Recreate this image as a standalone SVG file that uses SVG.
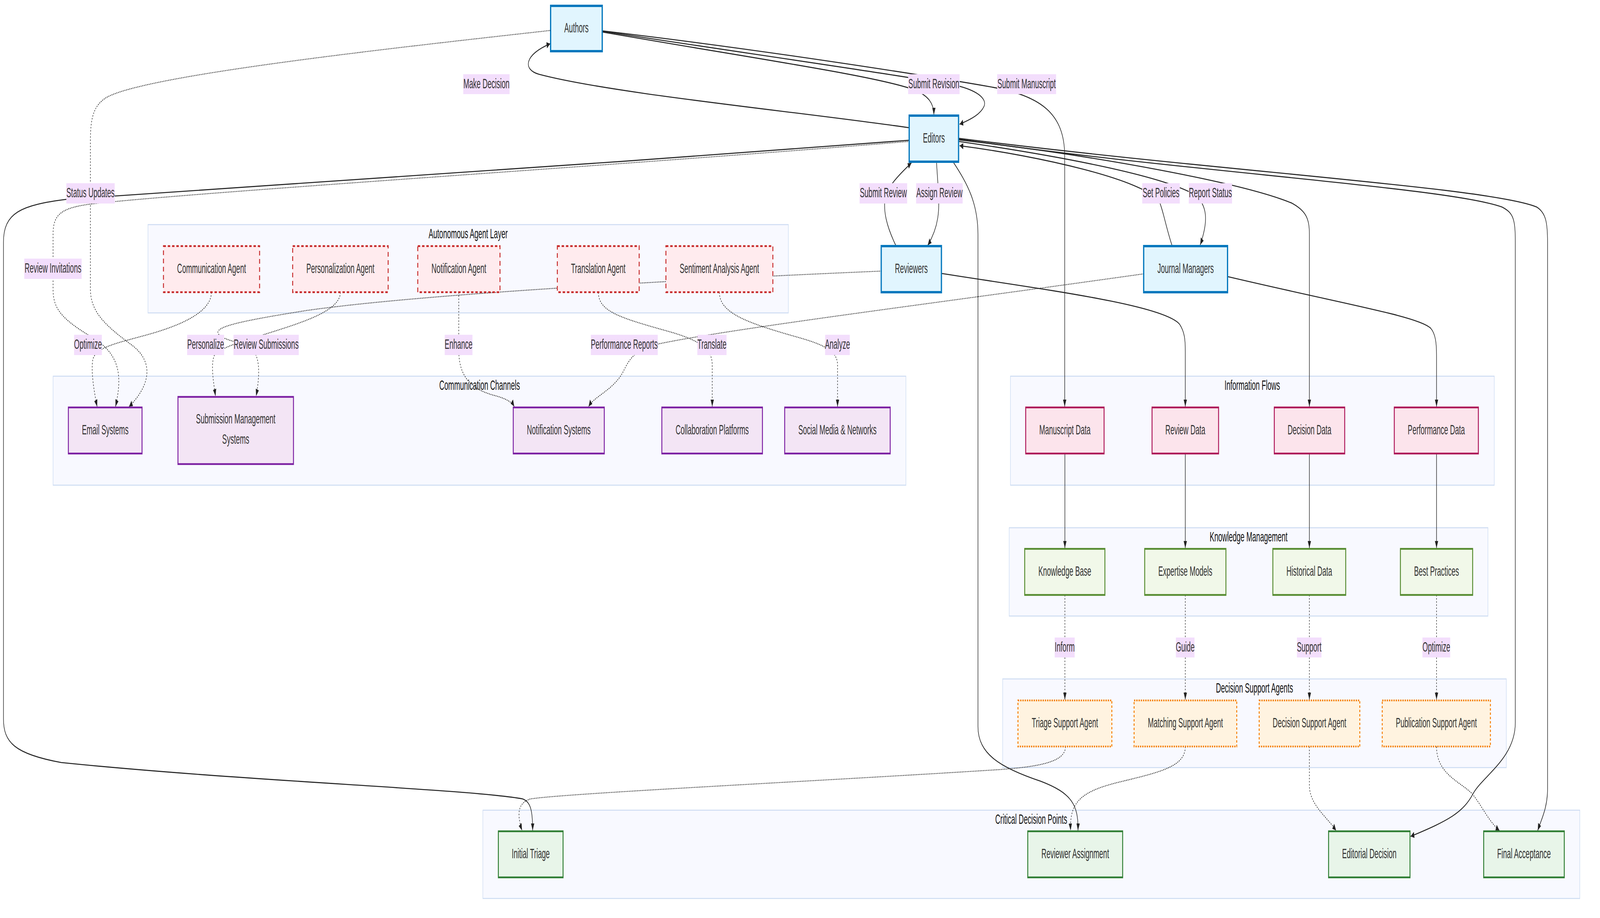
<svg xmlns="http://www.w3.org/2000/svg" width="7840" height="2350" viewBox="0 0 7840 2350" preserveAspectRatio="none" style="width:100vw;height:100vh;display:block">
<style>
text{font-family:"Liberation Sans",Arial,Helvetica,sans-serif;font-size:34.5px;text-anchor:middle}
.cl{fill:#f8f9ff;stroke:#cddcf2;stroke-width:2.5}
.ct{fill:#111}
.nt{fill:#333}
.stake{fill:#e1f5fe;stroke:#0277bd;stroke-width:6}
.agent{fill:#ffebee;stroke:#c62828;stroke-width:4.5;stroke-dasharray:12 9}
.chan{fill:#f3e5f5;stroke:#7b1fa2;stroke-width:4.5}
.data{fill:#fce4ec;stroke:#ad1457;stroke-width:4.5}
.know{fill:#f1f8e9;stroke:#558b2f;stroke-width:4.5}
.dsa{fill:#fff3e0;stroke:#f57c00;stroke-width:4.5;stroke-dasharray:6 5}
.crit{fill:#e8f5e9;stroke:#2e7d32;stroke-width:4.5}
.e{fill:none;stroke:#222;stroke-width:2.6;marker-end:url(#arr)}
.d{stroke-dasharray:4 4;stroke-width:2.3}
.lb{fill:#f3defc}
.lt{fill:#333}
</style>
<defs>
<marker id="arr" markerUnits="userSpaceOnUse" markerWidth="20" markerHeight="16" refX="18" refY="8" orient="auto">
<path d="M0,0 L18,8 L0,16 z" fill="#222"/>
</marker>
</defs>
<rect width="7840" height="2350" fill="#fff"/>

<g id="clusters">
<g id="cluster-agents"><rect class="cl" x="725" y="575" width="3138" height="226"/><text class="ct" x="2294" y="610">Autonomous Agent Layer</text></g>
<g id="cluster-channels"><rect class="cl" x="260" y="963" width="4179" height="279"/><text class="ct" x="2350" y="998">Communication Channels</text></g>
<g id="cluster-info"><rect class="cl" x="4951" y="963" width="2371" height="279"/><text class="ct" x="6136" y="998">Information Flows</text></g>
<g id="cluster-knowledge"><rect class="cl" x="4945" y="1351" width="2346" height="226"/><text class="ct" x="6118" y="1386">Knowledge Management</text></g>
<g id="cluster-dsa"><rect class="cl" x="4913" y="1738" width="2468" height="227"/><text class="ct" x="6147" y="1773">Decision Support Agents</text></g>
<g id="cluster-critical"><rect class="cl" x="2366" y="2074" width="5375" height="226"/><text class="ct" x="5053" y="2109">Critical Decision Points</text></g>
</g>

<g id="connectors">
<path class="e" d="M2952,79 C3700,125 4500,190 4850,222 C5100,245 5217,290 5217,400 L5217,1041"/>
<path class="e" d="M2952,80 C3700,140 4450,195 4703,221 C4800,235 4835,255 4822,272 C4805,292 4760,305 4702,318"/>
<path class="e" d="M2952,82 C3700,150 4300,195 4480,230 C4550,245 4576,265 4576,294"/>
<path class="e" d="M4455,327 C3900,285 3000,240 2640,190 C2560,178 2570,140 2696,112"/>
<path class="e" d="M4455,359 C3000,420 900,485 330,510 C100,525 17,545 17,620 L17,1840 C17,1900 70,1930 300,1952 C1200,2000 2300,2020 2560,2045 C2600,2052 2610,2075 2610,2126"/>
<path class="e d" d="M4455,362 C3000,425 1000,490 450,522 C300,532 260,548 260,600 L260,740 C260,790 300,815 440,860 C590,905 600,960 566,1041"/>
<path class="e d" d="M2696,78 C1800,130 700,195 520,250 C460,270 443,300 443,360 L443,740 C443,800 520,835 650,885 C760,930 730,990 632,1041"/>
<path class="e d" d="M1036,748 C1036,800 880,835 700,860 C560,880 470,890 455,920 C445,950 460,1000 476,1041"/>
<path class="e d" d="M1668,748 C1668,800 1450,830 1260,862 C1180,875 1080,890 1050,910 C1030,935 1050,990 1056,1014"/>
<path class="e d" d="M4318,694 C3500,712 2100,750 1500,795 C1200,820 1060,835 1068,852 C1075,865 1130,872 1200,882 C1270,895 1280,940 1255,1014"/>
<path class="e d" d="M2248,748 L2248,900 C2250,960 2300,995 2420,1012 C2480,1020 2510,1030 2520,1041"/>
<path class="e d" d="M5604,701 C4600,775 3600,840 3230,880 C3100,895 3080,925 3050,955 C3000,1000 2910,1015 2884,1041"/>
<path class="e d" d="M2932,748 C2932,800 3050,815 3300,852 C3440,875 3490,895 3490,935 L3490,1041"/>
<path class="e d" d="M3525,748 C3525,800 3650,825 3900,862 C4050,884 4104,900 4104,935 L4104,1041"/>
<path class="e" d="M4613,700 C5100,740 5700,780 5780,830 C5805,850 5808,870 5808,900 L5808,1041"/>
<path class="e" d="M6015,708 C6600,780 6950,810 7010,840 C7035,855 7039,880 7039,910 L7039,1041"/>
<path class="e" d="M4697,358 C5400,400 6100,470 6330,520 C6400,540 6416,560 6416,600 L6416,1041"/>
<path class="e" d="M4697,356 C5800,440 7100,480 7360,530 C7415,545 7425,560 7425,620 L7425,1850 C7425,1940 7270,1985 7220,2030 C7170,2080 7100,2100 6912,2141"/>
<path class="e" d="M4697,354 C6000,440 7300,480 7530,530 C7575,545 7583,570 7583,620 L7583,2020 C7583,2070 7550,2100 7535,2126"/>
<path class="e" d="M4697,362 C5200,400 5700,450 5860,500 C5920,530 5918,570 5881,627"/>
<path class="e" d="M5744,630 C5715,585 5700,540 5680,515 C5600,460 5100,400 4702,373"/>
<path class="e" d="M4589,417 L4597,480 C4605,540 4600,580 4546,628"/>
<path class="e" d="M4391,630 C4340,575 4330,540 4336,510 C4345,480 4400,450 4466,417"/>
<path class="e" d="M4671,415 C4740,470 4792,520 4792,600 L4792,1860 C4792,1930 4900,1965 5100,2000 C5250,2030 5285,2060 5282,2126"/>
<path class="e" d="M5218,1161 L5218,1403"/>
<path class="e" d="M5808,1161 L5808,1403"/>
<path class="e" d="M6416,1161 L6416,1403"/>
<path class="e" d="M7039,1161 L7039,1403"/>
<path class="e d" d="M5218,1523 L5218,1791"/>
<path class="e d" d="M5808,1523 L5808,1791"/>
<path class="e d" d="M6416,1523 L6416,1791"/>
<path class="e d" d="M7039,1523 L7039,1791"/>
<path class="e d" d="M5221,1911 C5221,1950 5100,1962 4900,1970 C4000,2000 2800,2030 2600,2045 C2540,2055 2530,2080 2558,2126"/>
<path class="e d" d="M5808,1911 C5808,1960 5700,1975 5500,2000 C5300,2025 5240,2050 5246,2126"/>
<path class="e d" d="M6416,1911 L6416,2010 C6416,2060 6500,2090 6547,2126"/>
<path class="e d" d="M7039,1911 C7039,1980 7150,2000 7210,2030 C7260,2060 7290,2100 7347,2126"/>
</g>

<g id="edge-labels">
<g><rect class="lb" x="2270" y="190" width="227" height="51"/><text class="lt" x="2383.5" y="226">Make Decision</text></g>
<g><rect class="lb" x="4450" y="190" width="252" height="51"/><text class="lt" x="4576" y="226">Submit Revision</text></g>
<g><rect class="lb" x="4886" y="190" width="289" height="51"/><text class="lt" x="5030.5" y="226">Submit Manuscript</text></g>
<g><rect class="lb" x="325" y="469" width="237" height="52"/><text class="lt" x="443.5" y="505">Status Updates</text></g>
<g><rect class="lb" x="4212" y="469" width="233" height="52"/><text class="lt" x="4328.5" y="505">Submit Review</text></g>
<g><rect class="lb" x="4489" y="469" width="228" height="52"/><text class="lt" x="4603" y="505">Assign Review</text></g>
<g><rect class="lb" x="5597" y="469" width="184" height="52"/><text class="lt" x="5689" y="505">Set Policies</text></g>
<g><rect class="lb" x="5825" y="469" width="212" height="52"/><text class="lt" x="5931" y="505">Report Status</text></g>
<g><rect class="lb" x="119" y="662" width="281" height="52"/><text class="lt" x="259.5" y="698">Review Invitations</text></g>
<g><rect class="lb" x="363" y="857" width="136" height="52"/><text class="lt" x="431" y="893">Optimize</text></g>
<g><rect class="lb" x="917" y="857" width="181" height="52"/><text class="lt" x="1007.5" y="893">Personalize</text></g>
<g><rect class="lb" x="1144" y="857" width="320" height="52"/><text class="lt" x="1304" y="893">Review Submissions</text></g>
<g><rect class="lb" x="2179" y="857" width="136" height="52"/><text class="lt" x="2247" y="893">Enhance</text></g>
<g><rect class="lb" x="2895" y="857" width="328" height="52"/><text class="lt" x="3059" y="893">Performance Reports</text></g>
<g><rect class="lb" x="3417" y="857" width="143" height="52"/><text class="lt" x="3488.5" y="893">Translate</text></g>
<g><rect class="lb" x="4043" y="857" width="121" height="52"/><text class="lt" x="4103.5" y="893">Analyze</text></g>
<g><rect class="lb" x="5168" y="1632" width="98" height="51"/><text class="lt" x="5217" y="1668">Inform</text></g>
<g><rect class="lb" x="5762" y="1632" width="91" height="51"/><text class="lt" x="5807.5" y="1668">Guide</text></g>
<g><rect class="lb" x="6355" y="1632" width="120" height="51"/><text class="lt" x="6415" y="1668">Support</text></g>
<g><rect class="lb" x="6970" y="1632" width="136" height="51"/><text class="lt" x="7038" y="1668">Optimize</text></g>
</g>

<g id="nodes">
<g id="authors"><rect class="stake" x="2698" y="15" width="253" height="116"/><text class="nt" x="2824.5" y="83">Authors</text></g>
<g id="editors"><rect class="stake" x="4455" y="296" width="242" height="118"/><text class="nt" x="4576" y="365">Editors</text></g>
<g id="reviewers"><rect class="stake" x="4318" y="630" width="295" height="118"/><text class="nt" x="4465.5" y="699">Reviewers</text></g>
<g id="journal-managers"><rect class="stake" x="5604" y="630" width="411" height="118"/><text class="nt" x="5809.5" y="699">Journal Managers</text></g>

<g id="communication-agent"><rect class="agent" x="801" y="630" width="471" height="118"/><text class="nt" x="1036.5" y="699">Communication Agent</text></g>
<g id="personalization-agent"><rect class="agent" x="1434" y="630" width="468" height="118"/><text class="nt" x="1668" y="699">Personalization Agent</text></g>
<g id="notification-agent"><rect class="agent" x="2047" y="630" width="403" height="118"/><text class="nt" x="2248.5" y="699">Notification Agent</text></g>
<g id="translation-agent"><rect class="agent" x="2731" y="630" width="401" height="118"/><text class="nt" x="2931.5" y="699">Translation Agent</text></g>
<g id="sentiment-agent"><rect class="agent" x="3263" y="630" width="524" height="118"/><text class="nt" x="3525" y="699">Sentiment Analysis Agent</text></g>

<g id="email-systems"><rect class="chan" x="335" y="1043" width="361" height="118"/><text class="nt" x="515.5" y="1112">Email Systems</text></g>
<g id="submission-systems"><rect class="chan" x="872" y="1016" width="566" height="172"/><text class="nt" x="1155" y="1084">Submission Management</text><text class="nt" x="1155" y="1136">Systems</text></g>
<g id="notification-systems"><rect class="chan" x="2515" y="1043" width="446" height="118"/><text class="nt" x="2738" y="1112">Notification Systems</text></g>
<g id="collaboration-platforms"><rect class="chan" x="3243" y="1043" width="493" height="118"/><text class="nt" x="3489.5" y="1112">Collaboration Platforms</text></g>
<g id="social-media"><rect class="chan" x="3845" y="1043" width="517" height="118"/><text class="nt" x="4103.5" y="1112">Social Media &amp; Networks</text></g>

<g id="manuscript-data"><rect class="data" x="5026" y="1043" width="384" height="118"/><text class="nt" x="5218" y="1112">Manuscript Data</text></g>
<g id="review-data"><rect class="data" x="5645" y="1043" width="326" height="118"/><text class="nt" x="5808" y="1112">Review Data</text></g>
<g id="decision-data"><rect class="data" x="6244" y="1043" width="345" height="118"/><text class="nt" x="6416.5" y="1112">Decision Data</text></g>
<g id="performance-data"><rect class="data" x="6832" y="1043" width="412" height="118"/><text class="nt" x="7038" y="1112">Performance Data</text></g>

<g id="knowledge-base"><rect class="know" x="5021" y="1405" width="393" height="118"/><text class="nt" x="5217.5" y="1474">Knowledge Base</text></g>
<g id="expertise-models"><rect class="know" x="5609" y="1405" width="398" height="118"/><text class="nt" x="5808" y="1474">Expertise Models</text></g>
<g id="historical-data"><rect class="know" x="6237" y="1405" width="357" height="118"/><text class="nt" x="6415.5" y="1474">Historical Data</text></g>
<g id="best-practices"><rect class="know" x="6862" y="1405" width="354" height="118"/><text class="nt" x="7039" y="1474">Best Practices</text></g>

<g id="triage-agent"><rect class="dsa" x="4988" y="1793" width="460" height="118"/><text class="nt" x="5218" y="1862">Triage Support Agent</text></g>
<g id="matching-agent"><rect class="dsa" x="5557" y="1793" width="503" height="118"/><text class="nt" x="5808.5" y="1862">Matching Support Agent</text></g>
<g id="decision-agent"><rect class="dsa" x="6170" y="1793" width="493" height="118"/><text class="nt" x="6416.5" y="1862">Decision Support Agent</text></g>
<g id="publication-agent"><rect class="dsa" x="6773" y="1793" width="530" height="118"/><text class="nt" x="7038" y="1862">Publication Support Agent</text></g>

<g id="initial-triage"><rect class="crit" x="2442" y="2128" width="317" height="118"/><text class="nt" x="2600.5" y="2197">Initial Triage</text></g>
<g id="reviewer-assignment"><rect class="crit" x="5036" y="2128" width="465" height="118"/><text class="nt" x="5268.5" y="2197">Reviewer Assignment</text></g>
<g id="editorial-decision"><rect class="crit" x="6510" y="2128" width="399" height="118"/><text class="nt" x="6709.5" y="2197">Editorial Decision</text></g>
<g id="final-acceptance"><rect class="crit" x="7270" y="2128" width="395" height="118"/><text class="nt" x="7467.5" y="2197">Final Acceptance</text></g>
</g>
</svg>
